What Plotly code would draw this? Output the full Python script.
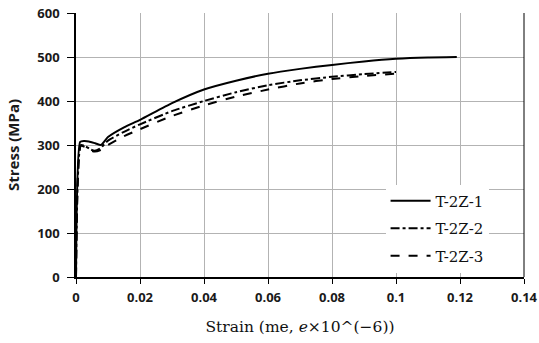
import plotly.graph_objects as go

# Data
strain_1 = [0, 0.0013, 0.0025, 0.004, 0.006, 0.0078, 0.01, 0.015, 0.02, 0.03, 0.04, 0.05,
            0.06, 0.07, 0.08, 0.09, 0.10, 0.11, 0.119]
stress_1 = [0, 307, 309, 308, 304, 300, 318, 340, 357, 395, 426, 446,
            462, 473, 482, 490, 496, 499, 500]

strain_2 = [0, 0.0015, 0.003, 0.0045, 0.0058, 0.0075, 0.01, 0.015, 0.02, 0.03, 0.04, 0.05,
            0.06, 0.07, 0.08, 0.09, 0.10]
stress_2 = [0, 300, 297, 290, 287, 292, 310, 330, 347, 377, 400, 420,
            436, 447, 455, 461, 466]

strain_3 = [0, 0.0015, 0.003, 0.0045, 0.0058, 0.0075, 0.01, 0.015, 0.02, 0.03, 0.04, 0.05,
            0.06, 0.07, 0.08, 0.09, 0.10]
stress_3 = [0, 298, 295, 288, 285, 288, 300, 320, 336, 366, 390, 410,
            426, 440, 450, 457, 462]

names = ["T-2Z-1", "T-2Z-2", "T-2Z-3"]
dashes = ["solid", "dashdot", "dash"]

x_ticks = [0, 0.02, 0.04, 0.06, 0.08, 0.1, 0.12, 0.14]
x_ticktext = ["0", "0.02", "0.04", "0.06", "0.08", "0.1", "0.12", "0.14"]
y_ticks = [0, 100, 200, 300, 400, 500, 600]

fig = go.Figure()
for xs, ys, nm, ds in zip([strain_1, strain_2, strain_3],
                          [stress_1, stress_2, stress_3], names, dashes):
    fig.add_trace(go.Scatter(
        x=xs, y=ys, mode="lines", name=nm, legendgroup=nm,
        line=dict(color="black", width=2, dash=ds, shape="spline", smoothing=0.5),
    ))

tick_font = dict(family="Open Sans, Arial, sans-serif", size=13, color="#1a1a1a", weight="bold")

fig.update_layout(
    width=539, height=343,
    margin=dict(l=76, r=15, t=13, b=66, autoexpand=False),
    paper_bgcolor="white", plot_bgcolor="white",
    showlegend=True,
    legend=dict(
        x=0.691, y=0.35, xanchor="left", yanchor="top",
        bgcolor="white", borderwidth=0,
        font=dict(family="DejaVu Serif, Liberation Serif, serif", size=15, color="#111"),
        tracegroupgap=5,
        itemwidth=40,
    ),
    xaxis=dict(
        range=[0, 0.14], tickvals=x_ticks, ticktext=x_ticktext,
        showgrid=True, gridcolor="#b3b3b3", gridwidth=1,
        showline=True, linecolor="black", linewidth=1.5,
        ticks="outside", ticklen=5, tickcolor="black", ticklabelstandoff=3,
        tickfont=tick_font, zeroline=False, automargin=False,
        title=dict(text="Strain (me, <i>e</i>×10^(−6))",
                   font=dict(family="DejaVu Serif, Liberation Serif, serif", size=15.5, color="#111"),
                   standoff=16),
    ),
    yaxis=dict(
        range=[0, 600], tickvals=y_ticks,
        showgrid=True, gridcolor="#b3b3b3", gridwidth=1,
        showline=True, linecolor="black", linewidth=1.5,
        ticks="outside", ticklen=7, tickcolor="black", ticklabelstandoff=5,
        tickfont=tick_font, zeroline=False, automargin=False,
        title=dict(text="Stress (MPa)",
                   font=dict(family="Open Sans, Arial, sans-serif", size=15, color="#1a1a1a", weight="bold"),
                   standoff=14),
    ),
)

# right frame line
fig.add_shape(type="line", xref="paper", yref="paper", x0=1, x1=1, y0=0, y1=1,
              line=dict(color="black", width=1))

fig.write_html("out.html", config={"displayModeBar": False},
               post_script="document.body.style.margin='0';")
